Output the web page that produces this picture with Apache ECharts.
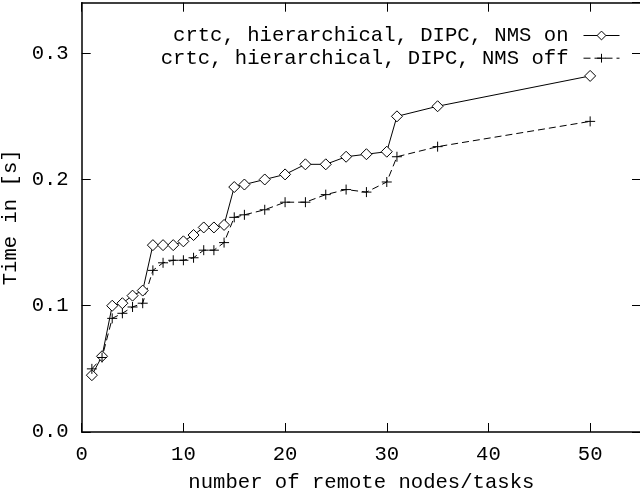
<!DOCTYPE html>
<html>
<head>
<meta charset="utf-8">
<script src="https://cdn.jsdelivr.net/npm/echarts@6/dist/echarts.min.js"></script>
<style>
html,body{margin:0;padding:0;background:#fff;}
#chart{width:640px;height:492px;}
</style>
</head>
<body>
<div id="chart"></div>
<script>
const nodes = [1,2,3,4,5,6,7,8,9,10,11,12,13,14,15,16,18,20,22,24,26,28,30,31,35,50];
const nmsOn = [0.045,0.060,0.100,0.102,0.108,0.112,0.148,0.148,0.148,0.151,0.156,0.162,0.162,0.164,0.194,0.196,0.200,0.204,0.212,0.212,0.218,0.220,0.222,0.250,0.258,0.282];
const nmsOff = [0.050,0.059,0.090,0.094,0.099,0.102,0.128,0.134,0.136,0.136,0.138,0.144,0.144,0.150,0.170,0.172,0.176,0.182,0.182,0.188,0.192,0.190,0.198,0.218,0.226,0.246];
const seriesNames = ['crtc, hierarchical, DIPC, NMS on', 'crtc, hierarchical, DIPC, NMS off'];
const xTitle = 'number of remote nodes/tasks';
const yTitle = 'Time in [s]';

const FONT = '"Liberation Mono", "DejaVu Sans Mono", monospace';
const FS = 20.6;
const plusPath = 'path://M0,5L10,5M5,0L5,10';
const diamondPath = 'path://M5,0L10,5L5,10L0,5Z';

const chart = echarts.init(document.getElementById('chart'), null, {renderer: 'canvas'});
const axisLineStyle = {color: '#000', width: 1.5};
const tickStyle = {show: true, inside: true, length: 9, lineStyle: {color: '#000', width: 1}};

function legendFor(name, top) {
  return {
    data: [name], orient: 'vertical', right: 20, top: top, padding: 0,
    align: 'right', itemWidth: 36, itemHeight: 11,
    lineStyle: {width: 1},
    itemStyle: {borderWidth: 1},
    textStyle: {fontFamily: FONT, fontSize: FS, color: '#000', padding: [0, 10, 0, 0]},
    selectedMode: false
  };
}

chart.setOption({
  animation: false,
  backgroundColor: '#fff',
  textStyle: {fontFamily: FONT, color: '#000'},
  grid: {left: 81.7, top: 2.7, right: -1, bottom: 60, outerBoundsMode: 'none', containLabel: false},
  legend: [legendFor(seriesNames[0], 25), legendFor(seriesNames[1], 47.7)],
  xAxis: [
    {
      type: 'value', position: 'bottom', min: 0, max: 55, interval: 10,
      axisLine: {show: true, onZero: false, lineStyle: axisLineStyle},
      axisTick: tickStyle,
      axisLabel: {fontFamily: FONT, fontSize: FS, color: '#000', margin: 12, showMaxLabel: false},
      splitLine: {show: false},
      name: xTitle, nameLocation: 'middle', nameGap: 40,
      nameTextStyle: {fontFamily: FONT, fontSize: FS, color: '#000'}
    },
    {
      type: 'value', position: 'top', min: 0, max: 55, interval: 10,
      axisLine: {show: true, onZero: false, lineStyle: axisLineStyle},
      axisTick: tickStyle,
      axisLabel: {show: false},
      splitLine: {show: false}
    }
  ],
  yAxis: [
    {
      type: 'value', position: 'left', min: 0, max: 0.34, interval: 0.1,
      axisLine: {show: true, onZero: false, lineStyle: axisLineStyle},
      axisTick: tickStyle,
      axisLabel: {fontFamily: FONT, fontSize: FS, color: '#000', margin: 13, showMaxLabel: false,
        formatter: v => v.toFixed(1)},
      splitLine: {show: false},
      name: yTitle, nameLocation: 'middle', nameGap: 52, nameRotate: 90,
      nameTextStyle: {fontFamily: FONT, fontSize: FS, color: '#000'}
    },
    {
      type: 'value', position: 'right', min: 0, max: 0.34, interval: 0.1,
      axisLine: {show: true, onZero: false, lineStyle: axisLineStyle},
      axisTick: tickStyle,
      axisLabel: {show: false},
      splitLine: {show: false}
    }
  ],
  series: [
    {
      name: seriesNames[0], type: 'line', xAxisIndex: 0, yAxisIndex: 0,
      data: nodes.map((x, i) => [x, nmsOn[i]]),
      symbol: diamondPath, symbolSize: 11, showAllSymbol: true,
      lineStyle: {color: '#000', width: 1, type: 'solid'},
      itemStyle: {color: '#fff', borderColor: '#000', borderWidth: 1}
    },
    {
      name: seriesNames[1], type: 'line', xAxisIndex: 0, yAxisIndex: 0,
      data: nodes.map((x, i) => [x, nmsOff[i]]),
      symbol: plusPath, symbolSize: 10, showAllSymbol: true,
      lineStyle: {color: '#000', width: 1, type: [7, 4]},
      itemStyle: {color: '#000', borderColor: '#000', borderWidth: 1}
    }
  ]
});
</script>
</body>
</html>
